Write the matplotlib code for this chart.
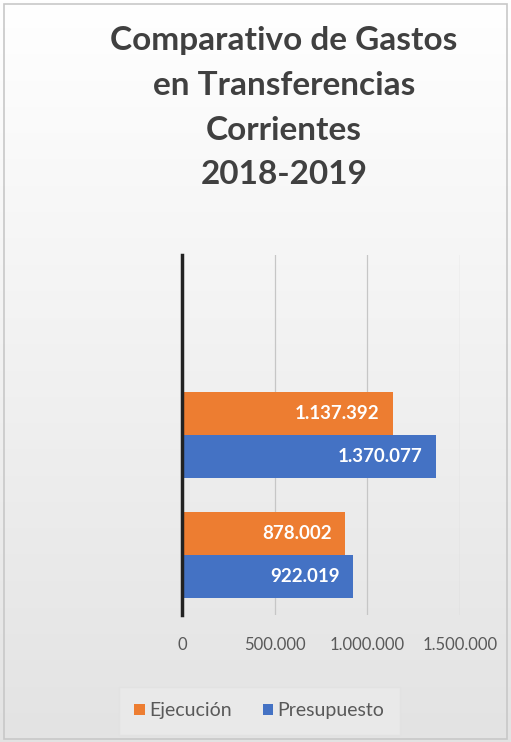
import matplotlib.pyplot as plt
import numpy as np

# data
categorias = ['2018', '2019']
ejecucion = [878002, 1137392]
presupuesto = [922019, 1370077]
series = ['Ejecución', 'Presupuesto']
xticks = [0, 500000, 1000000, 1500000]
xtick_labels = ['0', '500.000', '1.000.000', '1.500.000']

c_orange = '#ED7D31'
c_blue = '#4472C4'

plt.rcParams['font.family'] = ['Lato', 'DejaVu Sans']

fig = plt.figure(figsize=(5.11, 7.42), dpi=100)

# background gradient
bg = fig.add_axes([0, 0, 1, 1], zorder=-10)
grad = np.linspace(1.0, 0.89, 256).reshape(-1, 1)
bg.imshow(np.dstack([grad, grad, grad]), aspect='auto', extent=[0, 1, 0, 1])
bg.set_xlim(0, 1)
bg.set_ylim(0, 1)
bg.axis('off')
bg.add_patch(plt.Rectangle((0.008, 0.004), 0.984, 0.99, fill=False,
                           edgecolor='#c8c8c8', linewidth=1.2))

fig.text(0.556, 0.965, 'Comparativo de Gastos\nen Transferencias\nCorrientes\n2018-2019',
         ha='center', va='top', fontsize=24, fontweight='bold', color='#404040',
         linespacing=1.66)

ax = fig.add_axes([0.356, 0.171, 0.544, 0.485])
ax.patch.set_alpha(0)

y = np.arange(len(categorias))
h = 0.36
b1 = ax.barh(y + h / 2, ejecucion, height=h, color=c_orange, label=series[0], zorder=3)
b2 = ax.barh(y - h / 2, presupuesto, height=h, color=c_blue, label=series[1], zorder=3)

for bars, vals in [(b1, ejecucion), (b2, presupuesto)]:
    for bar, v in zip(bars, vals):
        ax.text(v - 70000, bar.get_y() + bar.get_height() / 2,
                f'{v:,}'.replace(',', '.'), ha='right', va='center',
                color='white', fontsize=13.5, fontweight='bold', zorder=4)

ax.set_xlim(0, 1500000)
ax.set_ylim(-0.5, 2.5)
ax.set_xticks(xticks)
ax.set_xticklabels(xtick_labels)
ax.set_yticks([])
ax.tick_params(axis='x', length=0, pad=16, labelsize=12, labelcolor='#595959')
ax.grid(axis='x', color='#c6c6c6', linewidth=0.9, zorder=0)
for s in ['top', 'right', 'bottom']:
    ax.spines[s].set_visible(False)
ax.spines['left'].set_color('#222222')
ax.spines['left'].set_linewidth(2.5)
ax.spines['left'].set_zorder(5)

leg = fig.legend(handles=[b1, b2], labels=series, loc='center',
                 bbox_to_anchor=(0.507, 0.042), ncol=2, frameon=True,
                 fontsize=14, handlelength=0.55, handleheight=0.55,
                 handletextpad=0.2, columnspacing=1.6, fancybox=False,
                 borderpad=0.8)
leg.get_frame().set_facecolor('#ebebeb')
leg.get_frame().set_edgecolor('#e2e2e2')
for t in leg.get_texts():
    t.set_color('#595959')

fig.savefig('out.png', dpi=100)
